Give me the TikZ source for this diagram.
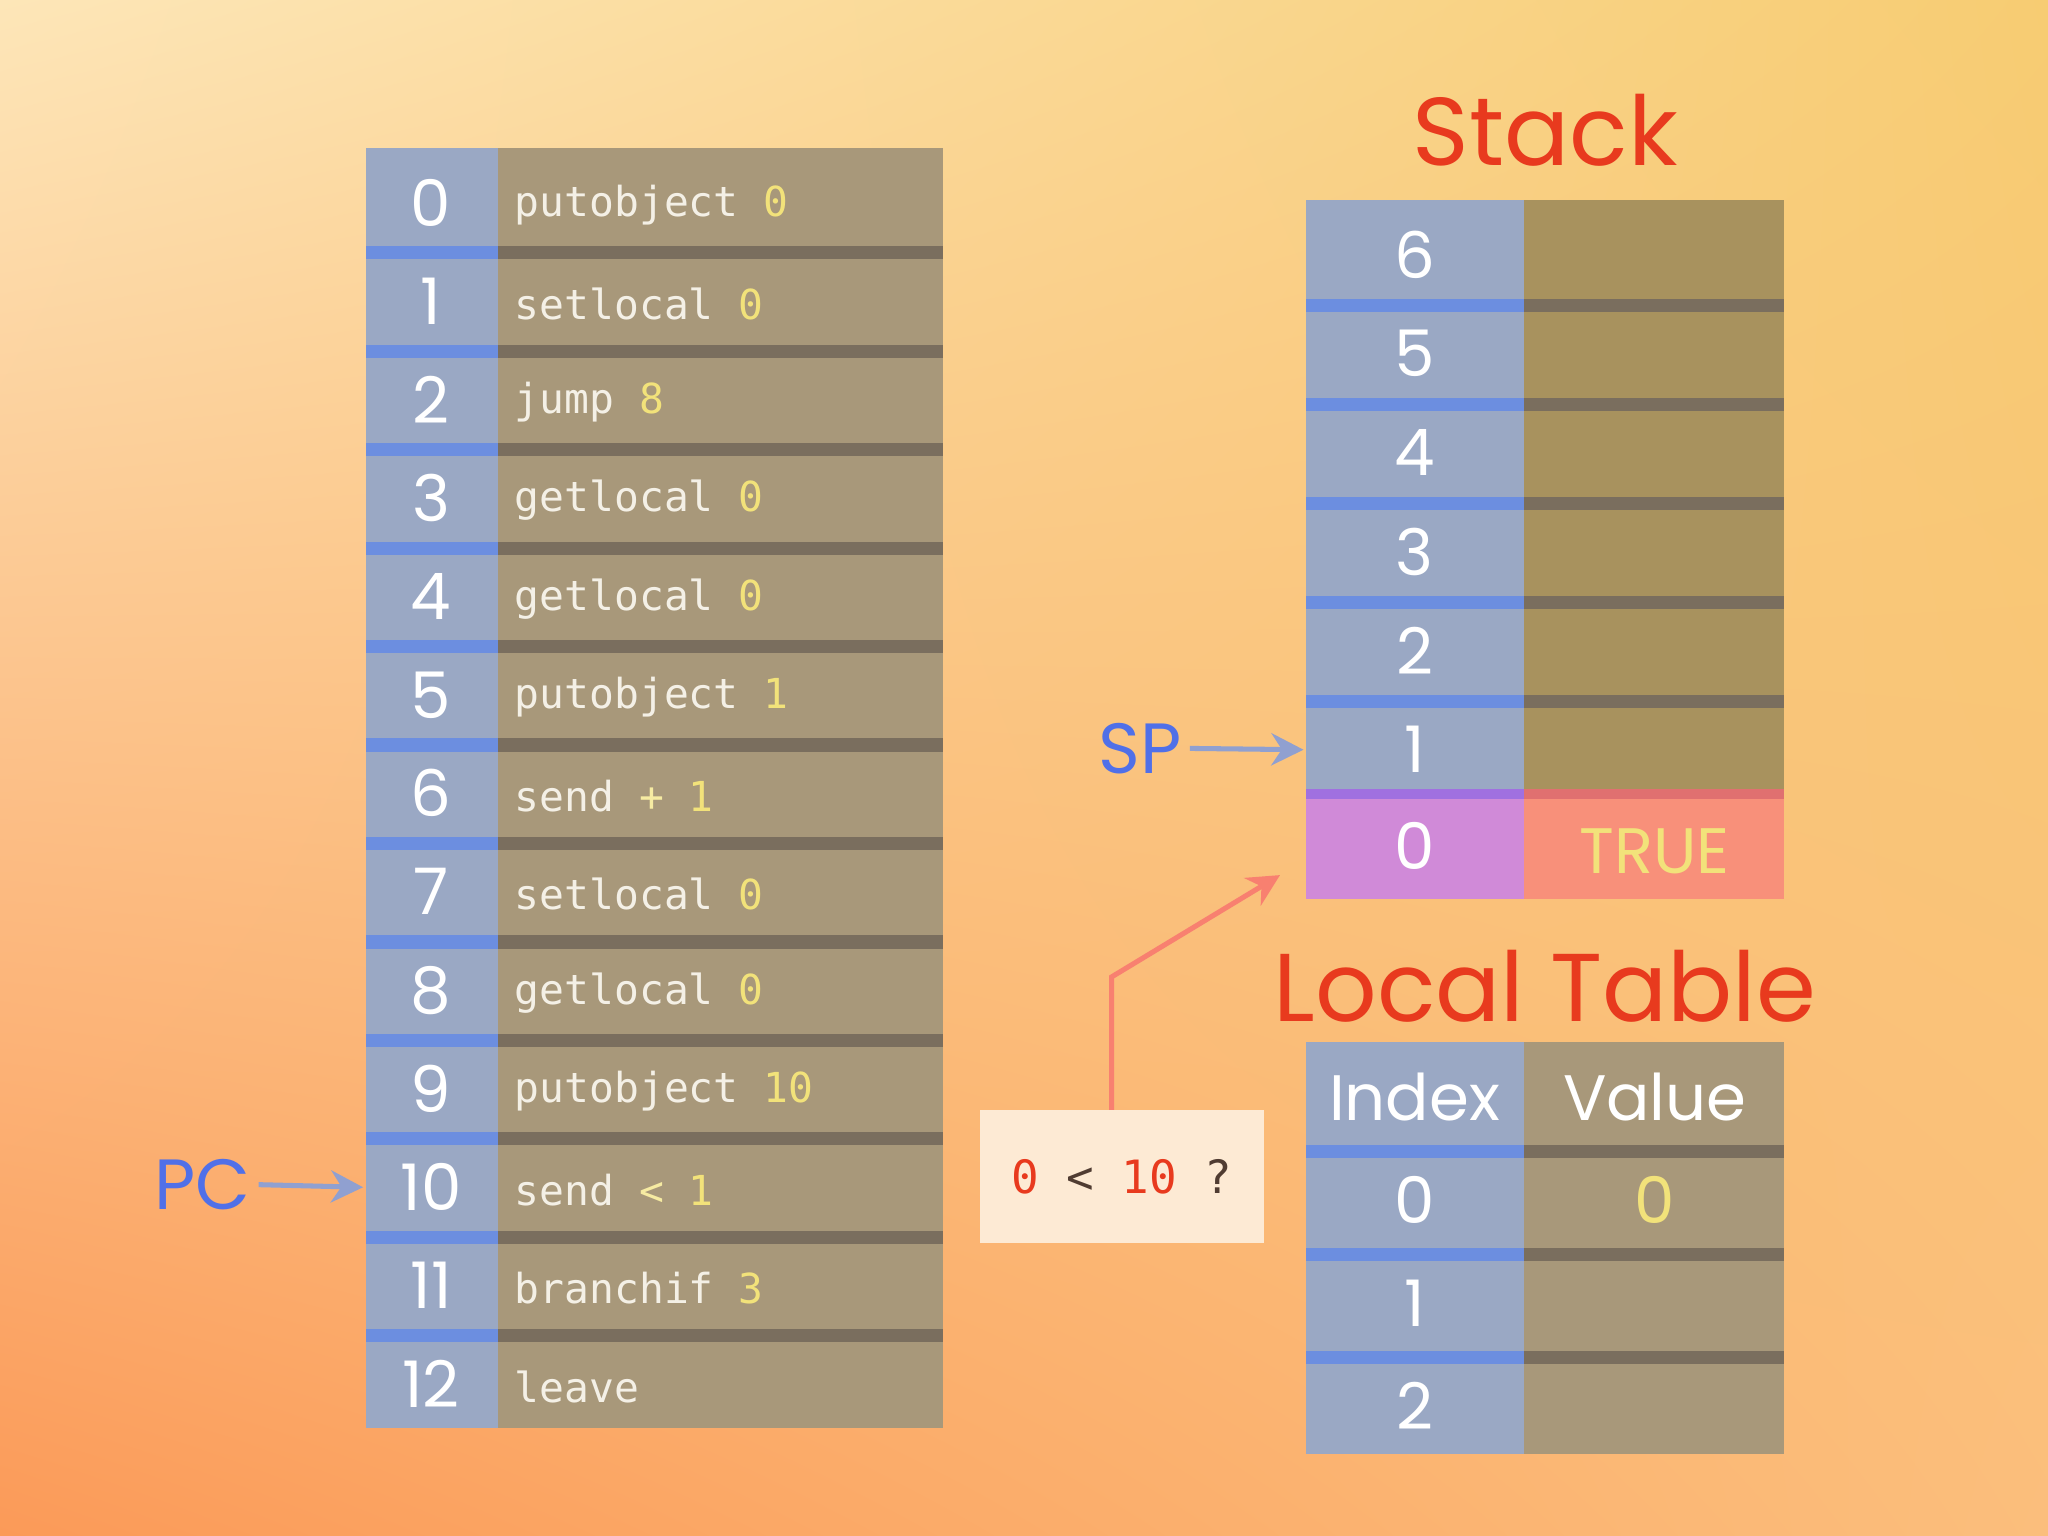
\documentclass[tikz,border=0pt]{standalone}
\usepackage{fontspec}
\setmainfont{Poppins}
\newfontfamily\monof{DejaVu Sans Mono}
\usetikzlibrary{arrows.meta,shadings}
\definecolor{idxc}{HTML}{9AA8C4}
\definecolor{insc}{HTML}{A8987A}
\definecolor{stkv}{HTML}{A8925E}
\definecolor{bluestrip}{HTML}{6C8EE0}
\definecolor{darkstrip}{HTML}{7A6E5E}
\definecolor{opc}{HTML}{F2E27A}
\definecolor{txc}{HTML}{F4F0E6}
\definecolor{titlec}{HTML}{E83A1E}
\definecolor{labc}{HTML}{5070E8}
\definecolor{arrc}{HTML}{90A0D0}
\definecolor{redarr}{HTML}{F88070}
\definecolor{bgul}{HTML}{FDE6B8}
\definecolor{bgur}{HTML}{F7CC72}
\definecolor{bgll}{HTML}{FB9A58}
\definecolor{bglr}{HTML}{FBBE7C}
\definecolor{purc}{HTML}{D08AD8}
\definecolor{salc}{HTML}{F8907A}
\definecolor{purs}{HTML}{A070E0}
\definecolor{reds}{HTML}{E07070}
\definecolor{cmpbg}{HTML}{FDEAD4}
\definecolor{cmptx}{HTML}{503C32}
\tikzset{
  idxtxt/.style={text=white,font=\fontsize{28}{30}\selectfont},
  instxt/.style={text=txc,font=\monof\fontsize{18}{20}\selectfont,anchor=west},
  ttl/.style={text=titlec,font=\fontsize{42}{44}\selectfont},
  lab/.style={text=labc,font=\fontsize{31}{33}\selectfont},
  ptr/.style={draw=arrc,line width=2.2pt,-{Stealth[length=14pt,width=14pt]}}
}
\begin{document}
\begin{tikzpicture}[x=0.02cm,y=-0.02cm]
\shade[upper left=bgul,upper right=bgur,lower left=bgll,lower right=bglr] (0,0) rectangle (1568,1176);
\useasboundingbox (0,0) rectangle (1568,1176);
% program table
\foreach \i/\ins in {0/{putobject \textcolor{opc}{0}},1/{setlocal \textcolor{opc}{0}},2/{jump \textcolor{opc}{8}},3/{getlocal \textcolor{opc}{0}},4/{getlocal \textcolor{opc}{0}},5/{putobject \textcolor{opc}{1}},6/{send \textcolor{opc!70!white}{+} \textcolor{opc}{1}},7/{setlocal \textcolor{opc}{0}},8/{getlocal \textcolor{opc}{0}},9/{putobject \textcolor{opc}{10}},10/{send \textcolor{opc!70!white}{<} \textcolor{opc}{1}},11/{branchif \textcolor{opc}{3}},12/{leave}}{
  \pgfmathsetmacro\t{113+75.4*\i}
  \fill[idxc] (280,\t) rectangle (381,\t+75.4);
  \fill[insc] (381,\t) rectangle (722,\t+75.4);
  \ifnum\i>0
    \fill[bluestrip] (280,\t) rectangle (381,\t+10);
    \fill[darkstrip] (381,\t) rectangle (722,\t+10);
  \fi
  \node[idxtxt] (p\i) at (330,\t+42) {\i};
  \node[instxt] (q\i) at (388,\t+44) {\ins};
}
\node[lab] (pc) at (155,907) {PC};
\draw[ptr] (pc.east) -- (p10.west -| 278,0);
% stack
\node[ttl] (stt) at (1183,100) {Stack};
\foreach \k/\lbl in {0/6,1/5,2/4,3/3,4/2,5/1}{
  \pgfmathsetmacro\t{153+75.8*\k}
  \fill[idxc] (1000,\t) rectangle (1167,\t+75.8);
  \fill[stkv] (1167,\t) rectangle (1366,\t+75.8);
  \ifnum\k>0
    \fill[bluestrip] (1000,\t) rectangle (1167,\t+10);
    \fill[darkstrip] (1167,\t) rectangle (1366,\t+10);
  \fi
  \node[idxtxt] (s\lbl) at (1083,\t+42) {\lbl};
}
\fill[purc] (1000,607) rectangle (1167,688);
\fill[salc] (1167,607) rectangle (1366,688);
\fill[purs] (1000,604) rectangle (1167,612);
\fill[reds] (1167,604) rectangle (1366,612);
\node[idxtxt] (s0) at (1083,648) {0};
\node[idxtxt,text=opc] (tv) at (1267,652) {TRUE};
\node[lab] (sp) at (873,573) {SP};
\draw[ptr] (sp.east) -- (s1.west -| 998,0);
% local table
\node[ttl] (ltt) at (1183,755) {Local Table};
\foreach \k/\a/\b in {0/Index/Value,1/0/\textcolor{opc}{0},2/1/{},3/2/{}}{
  \pgfmathsetmacro\t{798+78.8*\k}
  \fill[idxc] (1000,\t) rectangle (1167,\t+78.8);
  \fill[insc] (1167,\t) rectangle (1366,\t+78.8);
  \ifnum\k>0
    \fill[bluestrip] (1000,\t) rectangle (1167,\t+10);
    \fill[darkstrip] (1167,\t) rectangle (1366,\t+10);
  \fi
  \node[idxtxt] (la\k) at (1083,\t+42) {\a};
  \node[idxtxt] (lb\k) at (1267,\t+42) {\b};
}
% compare box
\node[fill=cmpbg,minimum width=4.36cm,minimum height=2.04cm,inner sep=0,font=\monof\fontsize{20}{22}\selectfont,text=cmptx] (cmp) at (859,901) {\textcolor{titlec}{0} < \textcolor{titlec}{10} ?};
\coordinate (bend) at (851,748);
\draw[draw=redarr,line width=2.2pt,-{Stealth[length=14pt,width=14pt]}] (cmp.north -| bend) -- (bend) -- (980,670);
\end{tikzpicture}
\end{document}
